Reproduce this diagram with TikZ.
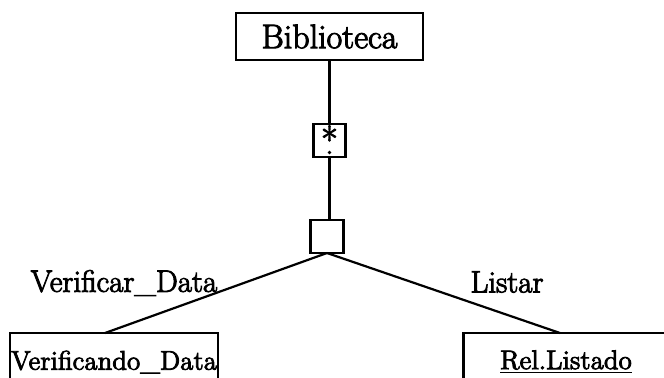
\documentclass[tikz,border=0pt]{standalone}
\usepackage{fontspec}
\setmainfont{Latin Modern Roman}[FakeBold=3]
\begin{document}
\begin{tikzpicture}[x=0.5pt,y=-0.5pt,
  frame/.style={draw,line width=1.2pt,inner sep=0pt,outer sep=0pt},
  link/.style={line width=1.1pt},
  toplabel/.style={font=\fontsize{17}{20}\selectfont},
  edgelabel/.style={font=\fontsize{15.5}{18}\selectfont,inner sep=0pt},
  leaflabel/.style={font=\fontsize{13.5}{16}\selectfont}]
  \useasboundingbox (0,0) rectangle (664,377);
  \clip (0,0) rectangle (664,377);

  % root class and the aggregation markers below it
  \node[frame,toplabel,minimum width=93.5pt,minimum height=23.5pt] (bib) at (329.5,36.5) {Biblioteca};
  \node[frame,minimum width=16pt,minimum height=16.5pt] (rep) at (329.5,140.5) {};
  \node[font=\fontsize{18}{18}\selectfont,inner sep=0pt] (star) at (329.5,139) {*};
  \fill (329.5,152.5) circle (1.8);
  \node[frame,minimum width=16.5pt,minimum height=16.5pt] (sel) at (327,236.5) {};

  % leaves (cut off at the bottom)
  \node[frame,leaflabel,minimum width=104pt,minimum height=29pt] (verif) at (114,362) {Verificando\_Data};
  \node[frame,leaflabel,minimum width=102.5pt,minimum height=29pt] (rel) at (566,362) {\underline{Rel.Listado}};

  % edge labels
  \node[edgelabel] (lv) at (124,283) {Verificar\_Data};
  \node[edgelabel] (ll) at (507,282) {Listar};

  % connectors
  \draw[link] (bib.south) -- (rep.north);
  \draw[link] (rep.south) -- (rep.south |- sel.north);
  \coordinate (vtop) at (105,333);
  \coordinate (rtop) at (560,333);
  \draw[link] (sel.south) -- (vtop);
  \draw[link] (sel.south) -- (rtop);
\end{tikzpicture}
\end{document}
